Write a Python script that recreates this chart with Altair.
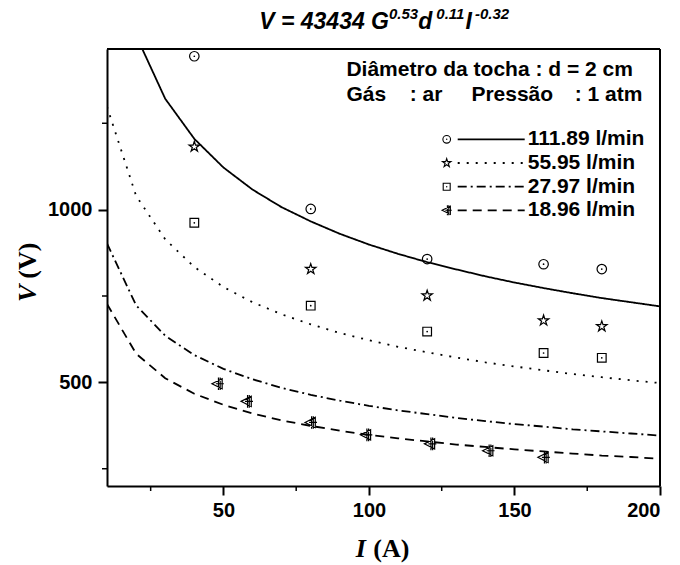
import altair as alt
import pandas as pd

# ---------------- data ----------------
series = ["111.89 l/min", "55.95 l/min", "27.97 l/min", "18.96 l/min"]

I_fit = [10, 20, 30, 40, 50, 60, 70, 80, 90, 100, 110, 120, 130, 140, 150, 160, 170, 180, 190, 200]
V_fit_111 = [1877, 1504, 1321, 1205, 1122, 1058, 1007, 966, 930, 899, 872, 848, 827, 807, 789, 773, 758, 744, 732, 720]
V_fit_56 = [1298, 1040, 914, 834, 776, 732, 697, 668, 643, 622, 603, 587, 572, 558, 546, 535, 524, 515, 506, 498]
V_fit_28 = [902, 723, 635, 579, 539, 509, 484, 464, 447, 432, 419, 408, 397, 388, 379, 372, 364, 358, 352, 346]
V_fit_19 = [727, 583, 512, 467, 435, 410, 390, 374, 360, 348, 338, 329, 320, 313, 306, 300, 294, 288, 284, 279]

I_circle = [40, 80, 120, 160, 180]
V_circle = [1444, 1002, 857, 842, 828]
I_star = [40, 80, 120, 160, 180]
V_star = [1182, 828, 751, 679, 662]
I_square = [40, 80, 120, 160, 180]
V_square = [962, 722, 647, 585, 571]
I_tri = [48, 58, 80, 99, 121, 141, 160]
V_tri = [496, 445, 384, 348, 322, 302, 283]

x_major = [50, 100, 150, 200]
x_minor = [25, 75, 125, 175]
y_major = [500, 1000]
y_minor = [250, 750, 1250]

# ---------------- layout ----------------
W, H = 553, 437
SANS = "Liberation Sans"
SERIF = "Liberation Serif"

xs = alt.Scale(domain=[10, 200], nice=False, zero=False)
ys = alt.Scale(domain=[200, 1465], nice=False, zero=False)

xaxis = alt.Axis(values=x_major, format="d", tickSize=9, tickWidth=2, tickColor="black",
                 domainColor="black", domainWidth=2, labelFont=SANS,
                 labelFontSize=20, labelFontWeight=700, labelColor="black",
                 labelPadding=5, grid=False, title=None)
yaxis = alt.Axis(values=y_major, format="d", tickSize=9, tickWidth=2, tickColor="black",
                 domainColor="black", domainWidth=2, labelFont=SANS,
                 labelFontSize=20, labelFontWeight=700, labelColor="black",
                 labelPadding=6, grid=False, title=None)

def X(field):
    return alt.X(field, type="quantitative", scale=xs, axis=xaxis)

def Y(field):
    return alt.Y(field, type="quantitative", scale=ys, axis=yaxis)

fits = [V_fit_111, V_fit_56, V_fit_28, V_fit_19]
dashes = [[1, 0], [2, 7], [9, 4, 2, 4], [9, 6]]

layers = []
for vals, dash in zip(fits, dashes):
    df = pd.DataFrame({"I": I_fit, "V": vals})
    layers.append(
        alt.Chart(df).mark_line(color="black", strokeWidth=1.8, strokeDash=dash, clip=True)
        .encode(x=X("I"), y=Y("V"))
    )

STAR = ("M0,-1L0.2245,-0.309L0.951,-0.309L0.363,0.118L0.588,0.809L0,0.382"
        "L-0.588,0.809L-0.363,0.118L-0.951,-0.309L-0.2245,-0.309Z")
TRI = "M-1,0L0.8,-0.9L0.8,0.9Z M0.15,-1.1L0.15,1.1 M0.45,-1.1L0.45,1.1 M-0.3,0L1.1,0"

markers = [
    (I_circle, V_circle, "circle", 90, True),
    (I_star, V_star, STAR, 120, False),
    (I_square, V_square, "square", 75, True),
    (I_tri, V_tri, TRI, 130, False),
]
for Is, Vs, shape, size, dot in markers:
    df = pd.DataFrame({"I": Is, "V": Vs})
    layers.append(
        alt.Chart(df).mark_point(shape=shape, size=size, filled=False, color="black",
                                 strokeWidth=1.2, opacity=1, clip=True)
        .encode(x=X("I"), y=Y("V"))
    )
    if dot:
        layers.append(
            alt.Chart(df).mark_circle(size=3, color="black", opacity=1, clip=True)
            .encode(x=X("I"), y=Y("V"))
        )

# minor ticks
layers.append(
    alt.Chart(pd.DataFrame({"m": x_minor})).mark_rule(color="black", strokeWidth=1.5)
    .encode(x=X("m"), y=alt.value(H), y2=alt.value(H + 5))
)
layers.append(
    alt.Chart(pd.DataFrame({"m": y_minor})).mark_rule(color="black", strokeWidth=1.5)
    .encode(y=Y("m"), x=alt.value(0), x2=alt.value(-5))
)

one = pd.DataFrame({"k": [0]})
# frame top and right
layers.append(alt.Chart(one).mark_rule(color="black", strokeWidth=2)
              .encode(x=alt.value(0), x2=alt.value(W), y=alt.value(0)))
layers.append(alt.Chart(one).mark_rule(color="black", strokeWidth=2)
              .encode(x=alt.value(W), y=alt.value(0), y2=alt.value(H)))

def txt(t, x, y, size=21, font=SANS, style="normal", weight="bold", align="left",
        baseline="middle", angle=0):
    return (alt.Chart(pd.DataFrame({"t": [t]}))
            .mark_text(font=font, fontSize=size, fontStyle=style, fontWeight=weight,
                       align=align, baseline=baseline, angle=angle, color="black")
            .encode(x=alt.value(x), y=alt.value(y), text="t:N"))

# title with superscripts
tb, sb = -20, -30
layers += [
    txt("V = 43434 G", 152.2, tb, size=23, style="italic", baseline="alphabetic"),
    txt("0.53", 282.0, sb, size=15, style="italic", baseline="alphabetic"),
    txt("d", 311.2, tb, size=23, style="italic", baseline="alphabetic"),
    txt("0.11", 329.3, sb, size=15, style="italic", baseline="alphabetic"),
    txt("I", 358.5, tb, size=23, style="italic", baseline="alphabetic"),
    txt("-0.32", 367.9, sb, size=15, style="italic", baseline="alphabetic"),
]

# axis titles
layers += [
    txt("V", -71, 253, size=26, font=SERIF, style="italic", baseline="alphabetic", angle=270),
    txt("(V)", -71, 229.7, size=26, font=SERIF, baseline="alphabetic", angle=270),
    txt("I", 248.7, 508, size=26, font=SERIF, style="italic", baseline="alphabetic"),
    txt("(A)", 266.3, 508, size=26, font=SERIF, baseline="alphabetic"),
]

# annotation header
layers += [
    txt("Diâmetro da tocha : d = 2 cm", 239.4, 21),
    txt("Gás", 239.4, 46),
    txt(": ar", 302.7, 46),
    txt("Pressão", 364.4, 46),
    txt(": 1 atm", 467.7, 46),
]

# legend
rows = [90.3, 114, 137.7, 161.3]
sym_x, l0, l1, tx = 339.7, 350.7, 417.7, 420.7
for (Is, Vs, shape, size, dot), dash, ry, lab in zip(markers, dashes, rows, series):
    layers.append(
        alt.Chart(one).mark_point(shape=shape, size=size * 0.65, filled=False, color="black",
                                  strokeWidth=1.1, opacity=1)
        .encode(x=alt.value(sym_x), y=alt.value(ry))
    )
    if dot:
        layers.append(alt.Chart(one).mark_circle(size=2, color="black", opacity=1)
                      .encode(x=alt.value(sym_x), y=alt.value(ry)))
    layers.append(
        alt.Chart(one).mark_rule(color="black", strokeWidth=1.8, strokeDash=dash)
        .encode(x=alt.value(l0), x2=alt.value(l1), y=alt.value(ry))
    )
    layers.append(txt(lab, tx, ry))

chart = (
    alt.layer(*layers)
    .properties(width=W, height=H,
                padding={"left": 107, "top": 49, "right": 20, "bottom": 79},
                autosize=alt.AutoSizeParams(type="none"))
    .configure_view(stroke="black", strokeWidth=2)
    .configure(background="white")
)

chart.save("out.html", embed_options={"renderer": "svg", "actions": False})
